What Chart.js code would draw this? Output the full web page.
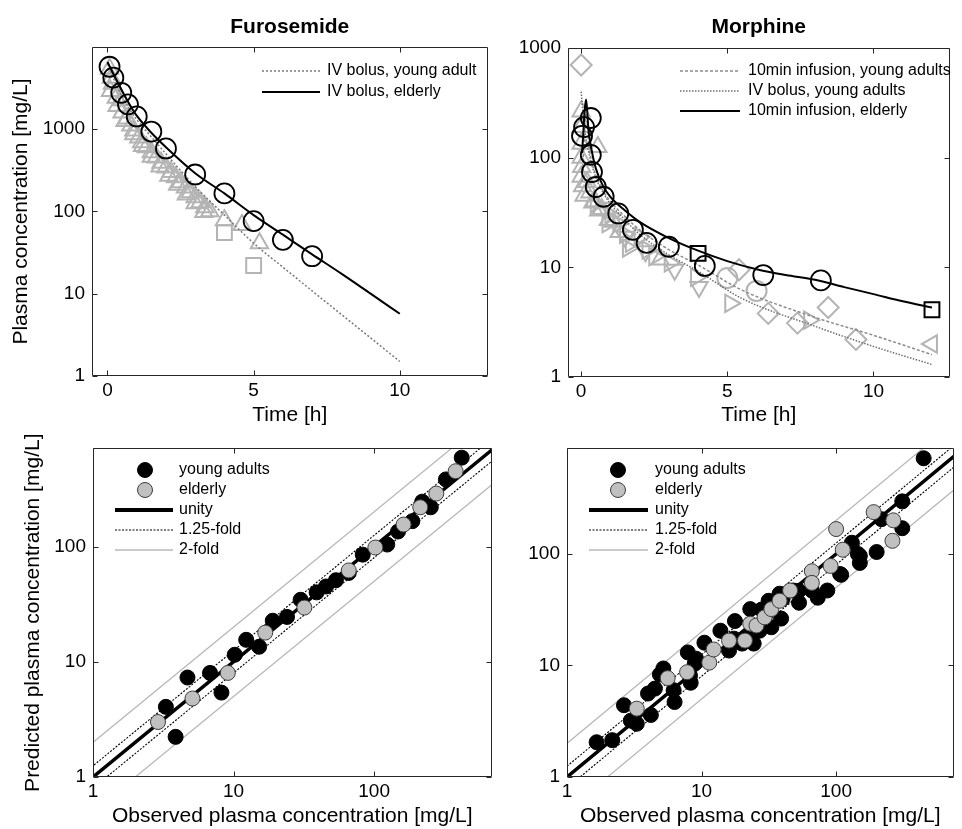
<!DOCTYPE html>
<html>
<head>
<meta charset="utf-8">
<title>Furosemide and morphine plasma concentrations</title>
<script src="https://cdn.jsdelivr.net/npm/chart.js@4.4.1/dist/chart.umd.min.js"></script>
<style>
  html, body { margin: 0; padding: 0; background: #fff; }
  #page { position: relative; width: 962px; height: 829px; overflow: hidden; background: #fff; }
  canvas { position: absolute; }
</style>
</head>
<body>
<div id="page">
  <canvas id="furoTime" width="500" height="430" style="left:0;top:0;width:500px;height:430px"></canvas>
  <canvas id="morphTime" width="462" height="430" style="left:500px;top:0;width:462px;height:430px"></canvas>
  <canvas id="furoGof" width="500" height="399" style="left:0;top:430px;width:500px;height:399px"></canvas>
  <canvas id="morphGof" width="462" height="399" style="left:500px;top:430px;width:462px;height:399px"></canvas>
</div>
<script>
/* Data: Furosemide time course */
const furoTimeElderly = [0.07, 0.2, 0.47, 0.7, 1.0, 1.5, 2.0, 3.0, 4.0, 5.0, 6.0, 7.0];
const furoConcElderly = [5700, 4200, 2750, 1990, 1420, 930, 580, 280, 165, 76, 45, 28.5];
const furoTimeYoungA = [0.07, 0.13, 0.17, 0.3, 0.47, 0.5, 0.67, 0.8, 0.9, 1.07, 1.17, 1.33, 1.5, 1.67, 1.83, 2.0, 2.17, 2.33, 2.5, 2.67, 2.83, 3.0, 3.17, 3.33, 3.5, 4.0, 4.6, 5.2];
const furoConcYoungA = [5400, 4200, 3550, 2400, 2230, 1590, 1340, 1100, 960, 790, 690, 600, 520, 450, 390, 340, 300, 260, 225, 195, 170, 148, 129, 112, 100, 78, 68, 41];
const furoTimeYoungB = [0.1, 0.33, 0.6, 0.9, 1.2, 1.5, 1.8, 2.1, 2.4, 2.7, 3.0, 3.3];
const furoConcYoungB = [2900, 1900, 1250, 860, 620, 460, 350, 270, 210, 160, 125, 98];
const furoTimeYoungSq = [4.0, 5.0];
const furoConcYoungSq = [55, 22];
const furoModelTime = [0, 0.25, 0.5, 0.75, 1, 1.5, 2, 3, 4, 5, 6, 7, 8, 9, 10];
const furoModelYoung = [6200, 3800, 2500, 1750, 1300, 800, 500, 200, 90, 41, 21, 10.8, 5.6, 2.9, 1.5];
const furoModelElderly = [6500, 4300, 2900, 2000, 1450, 900, 600, 290, 165, 90, 52, 30, 17.5, 10, 5.7];

/* Data: Morphine time course */
const morphTimeElderly = [0.03, 0.1, 0.33, 0.33, 0.37, 0.5, 0.77, 1.27, 1.77, 2.24, 3.0, 4.23, 6.23, 8.2];
const morphConcElderly = [158, 190, 230, 106, 74, 54, 44, 31, 22, 16.7, 15.4, 10.3, 8.5, 7.6];
const morphTimeElderlySq = [4.0, 12.0];
const morphConcElderlySq = [13.4, 4.1];
const morphInfElderlyTime = [0.03, 0.17, 0.25, 0.35, 0.5, 0.75, 1, 1.5, 2, 3, 4, 5, 6, 7, 8, 9, 10, 11, 12];
const morphInfElderlyConc = [110, 340, 180, 120, 80, 55, 44, 33, 26, 18.5, 14.2, 11.4, 9.6, 8.5, 7.7, 6.6, 5.7, 4.9, 4.3];
const morphInfYoungTime = [0.03, 0.17, 0.25, 0.35, 0.5, 0.75, 1, 1.5, 2, 3, 4, 5.5, 8, 10, 12];
const morphInfYoungConc = [60, 250, 140, 95, 70, 50, 40, 29, 22, 14.5, 10.5, 6.2, 3.5, 2.4, 1.6];
const morphBolusYoungTime = [0, 0.1, 0.25, 0.5, 0.75, 1, 1.5, 2, 3, 4, 5.5, 8, 10, 12];
const morphBolusYoungConc = [400, 200, 115, 66, 48, 38, 27, 20, 13, 9.2, 5.2, 2.9, 1.9, 1.3];
const morphTriUpTime = [0, 0, 0, 0, 0.02, 0, 0.05, 0.1, 0.57, 0.4, 0.6, 0.93, 1.3, 2.7, 0.2, 0.3, 0.45, 0.7, 1.1];
const morphTriUpConc = [263, 190, 134, 100, 82, 67, 55, 45, 125, 39, 33, 27, 21, 11.8, 60, 48, 40, 34, 26];
const morphTriRightTime = [1.0, 1.27, 1.5, 1.7, 2.0, 2.27, 3.03, 3.93, 5.1, 7.8, 0.5, 0.9, 1.6, 2.5];
const morphTriRightConc = [30, 25, 20, 16.6, 19, 14.4, 11, 8.1, 4.7, 3.3, 38, 25, 15, 12.5];
const morphTriDownTime = [0.8, 1.5, 4.03, 2.2, 3.2];
const morphTriDownConc = [35, 19, 6.6, 14, 9.5];
const morphTriLeftTime = [12.0];
const morphTriLeftConc = [2.0];
const morphDiamondTime = [0, 5.4, 6.4, 7.4, 8.45, 9.4];
const morphDiamondConc = [700, 9.5, 3.8, 3.1, 4.3, 2.2];
const morphGrayCircleTime = [5.0, 6.0];
const morphGrayCircleConc = [8, 6.1];

/* Data: observed vs predicted */
const furoObsYoung = [3.87, 3.3, 4.7, 6.8, 8.2, 10.2, 12.3, 15.2, 19, 24, 30, 39, 45.5, 53.5, 66, 83, 124, 148, 187, 220, 253, 324, 420];
const furoPredYoung = [2.23, 4.06, 7.3, 8.0, 5.4, 11.5, 15.5, 13.5, 22.7, 24.5, 34.5, 40, 45, 51, 59, 85, 104, 135, 166, 245, 219, 382, 590];
const furoObsElderly = [2.9, 5.1, 9.1, 16.8, 31.9, 66, 102, 162, 213, 277, 380];
const furoPredElderly = [3.0, 4.8, 8.0, 17.9, 29.5, 62, 98, 155, 219, 288, 450];
const morphObsYoung = [1.66, 2.17, 2.65, 2.98, 3.3, 4.2, 4.5, 5.2, 6.3, 6.2, 7.9, 8.3, 9.1, 10.5, 13.8, 16, 17.7, 20, 23, 24.4, 27, 31.5, 33, 39, 38, 48, 53, 66, 73, 86, 109, 131, 145, 150, 200, 217, 310, 310, 447, 4.9, 4.0, 8.2, 8.9, 17.4, 21.7, 27.9, 40, 52.7, 107, 150];
const morphPredYoung = [2.05, 2.14, 4.4, 3.2, 3.0, 3.6, 6.2, 9.4, 4.7, 6.0, 13.1, 7.0, 11.5, 16, 20.5, 13.6, 25, 15.7, 32, 15.7, 20.5, 38, 22, 26.3, 44, 47, 36.5, 47, 40.5, 47, 65, 126, 100, 83, 104, 205, 296, 170, 720, 8.3, 5.6, 8.1, 10.4, 17.4, 17.8, 31.7, 39.6, 46.7, 66, 96];
const morphObsElderly = [3.3, 5.6, 7.8, 11.4, 12.3, 16, 21, 23, 25.6, 29.4, 33, 38, 45.5, 66, 66, 91, 100, 112, 190, 266, 262];
const morphPredElderly = [4.1, 7.7, 8.7, 10.6, 13.9, 16.7, 16.7, 23.7, 22.8, 27, 32, 38, 47, 70, 55, 78, 167, 109, 237, 200, 131];

/* Axis ticks and reference lines */
const timeTicks = [0, 5, 10];
const concTicks = [1, 10, 100, 1000];
const gofTicks = [1, 10, 100];
const diagEnds = [0.5, 2000];
const foldLines = [1.25, 2];

/* Styles */
const FONT = '"Liberation Sans", Arial, Helvetica, sans-serif';
const GRAY = '#b4b4b4';
const NONE = 'rgba(0,0,0,0)';

/* Helper functions */
function pts(xs, ys) {
    return xs.map((x, i) => ({x: x, y: ys[i]}));
}

function markers(xs, ys, style, radius, stroke, fill, width, rotation, order) {
    return {
        data: pts(xs, ys),
        showLine: false,
        pointStyle: style,
        pointRadius: radius,
        pointRotation: rotation,
        pointBorderColor: stroke,
        pointBackgroundColor: fill,
        pointBorderWidth: width,
        order: order
    };
}

function curve(xs, ys, color, width, dash, order) {
    return {
        data: pts(xs, ys),
        showLine: true,
        borderColor: color,
        borderWidth: width,
        borderDash: dash,
        pointRadius: 0,
        cubicInterpolationMode: 'monotone',
        order: order
    };
}

function axis(type, min, max, tickValues, side, size, title, titlePad) {
    return {
        type: type,
        min: min,
        max: max,
        position: side,
        grid: {display: false, drawTicks: false},
        border: {display: false},
        afterBuildTicks: function (scale) {
            scale.ticks = tickValues.map(v => ({value: v}));
        },
        afterFit: function (scale) {
            if (side === 'left') {
                scale.width = size;
            } else {
                scale.height = size;
            }
        },
        ticks: {
            autoSkip: false,
            maxRotation: 0,
            padding: side === 'left' ? 7 : 3,
            color: '#000',
            font: {family: FONT, size: 19},
            callback: v => String(v)
        },
        title: {
            display: !!title,
            text: title || '',
            color: '#000',
            font: {family: FONT, size: 21},
            padding: titlePad
        }
    };
}

/* Box with inward ticks on all four sides, like the original figure */
const framePlugin = {
    id: 'frame',
    afterDatasetsDraw(chart) {
        const a = chart.chartArea;
        const ctx = chart.ctx;
        const l = Math.round(a.left) + 0.5, r = Math.round(a.right) - 0.5;
        const t = Math.round(a.top) + 0.5, b = Math.round(a.bottom) - 0.5;
        ctx.save();
        ctx.strokeStyle = '#262626';
        ctx.lineWidth = 1;
        ctx.setLineDash([]);
        ctx.beginPath();
        ctx.rect(l, t, r - l, b - t);
        chart.scales.x.ticks.forEach(tk => {
            const px = Math.round(chart.scales.x.getPixelForValue(tk.value)) + 0.5;
            ctx.moveTo(px, b); ctx.lineTo(px, b - 5);
            ctx.moveTo(px, t); ctx.lineTo(px, t + 5);
        });
        chart.scales.y.ticks.forEach(tk => {
            const py = Math.round(chart.scales.y.getPixelForValue(tk.value)) + 0.5;
            ctx.moveTo(l, py); ctx.lineTo(l + 5, py);
            ctx.moveTo(r, py); ctx.lineTo(r - 5, py);
        });
        ctx.stroke();
        ctx.restore();
    }
};

const titlePlugin = {
    id: 'panelTitle',
    afterDraw(chart, args, opts) {
        if (!opts.text) return;
        const a = chart.chartArea;
        const ctx = chart.ctx;
        ctx.save();
        ctx.fillStyle = '#000';
        ctx.font = 'bold 21px ' + FONT;
        ctx.textAlign = 'center';
        ctx.textBaseline = 'alphabetic';
        ctx.fillText(opts.text, (a.left + a.right) / 2, opts.y);
        ctx.restore();
    }
};

const legendPlugin = {
    id: 'panelLegend',
    afterDraw(chart, args, opts) {
        if (!opts.items) return;
        const ctx = chart.ctx;
        ctx.save();
        opts.items.forEach((item, i) => {
            const y = opts.rows[i];
            if (item.marker) {
                ctx.beginPath();
                ctx.arc(opts.markerX, y, item.radius, 0, Math.PI * 2);
                ctx.fillStyle = item.fill;
                ctx.fill();
                ctx.lineWidth = item.width;
                ctx.strokeStyle = item.stroke;
                ctx.setLineDash([]);
                ctx.stroke();
            } else {
                ctx.beginPath();
                ctx.moveTo(opts.x0, y);
                ctx.lineTo(opts.x1, y);
                ctx.lineWidth = item.width;
                ctx.strokeStyle = item.color;
                ctx.setLineDash(item.dash);
                ctx.stroke();
            }
            ctx.setLineDash([]);
            ctx.fillStyle = '#000';
            ctx.font = '16px ' + FONT;
            ctx.textAlign = 'left';
            ctx.textBaseline = 'middle';
            ctx.fillText(item.label, opts.textX, y);
        });
        ctx.restore();
    }
};

function makeChart(id, datasets, scales, padding, title, legend) {
    return new Chart(document.getElementById(id), {
        type: 'scatter',
        data: {datasets: datasets},
        options: {
            responsive: false,
            animation: false,
            devicePixelRatio: 1,
            events: [],
            layout: {padding: padding},
            scales: scales,
            plugins: {
                legend: {display: false},
                tooltip: {enabled: false},
                panelTitle: title,
                panelLegend: legend
            }
        },
        plugins: [framePlugin, titlePlugin, legendPlugin]
    });
}

function foldSets(order) {
    const sets = [curve(diagEnds, diagEnds, '#000', 3.5, [], order)];
    foldLines.forEach(f => {
        const color = f === 2 ? '#b9b9b9' : '#000';
        const width = f === 2 ? 1.3 : 1.1;
        const dash = f === 2 ? [] : [2, 1.5];
        sets.push(curve(diagEnds, diagEnds.map(v => v * f), color, width, dash, order + 1));
        sets.push(curve(diagEnds, diagEnds.map(v => v / f), color, width, dash, order + 1));
    });
    return sets;
}

const gofLegendItems = [
    {label: 'young adults', marker: true, radius: 7.5, fill: '#000', stroke: '#000', width: 1},
    {label: 'elderly', marker: true, radius: 7.5, fill: '#c0c0c0', stroke: '#3c3c3c', width: 1},
    {label: 'unity', color: '#000', width: 4, dash: []},
    {label: '1.25-fold', color: '#000', width: 1.2, dash: [2, 1.5]},
    {label: '2-fold', color: '#b9b9b9', width: 1.5, dash: []}
];

/* Chart instances */
makeChart('furoTime', [
    markers(furoTimeElderly, furoConcElderly, 'circle', 10, '#000', NONE, 1.8, 0, 1),
    curve(furoModelTime, furoModelElderly, '#000', 2, [], 2),
    curve(furoModelTime, furoModelYoung, '#7a7a7a', 1.5, [2, 2], 3),
    markers(furoTimeYoungSq, furoConcYoungSq, 'rect', 10.5, GRAY, NONE, 2, 0, 4),
    markers(furoTimeYoungA, furoConcYoungA, 'triangle', 10, GRAY, NONE, 2, 0, 5),
    markers(furoTimeYoungB, furoConcYoungB, 'triangle', 10, GRAY, NONE, 2, 0, 5)
], {
    x: axis('linear', -0.53, 13.0, timeTicks, 'bottom', 54, 'Time [h]', {top: 0, bottom: 2}),
    y: axis('logarithmic', 1, 9900, concTicks, 'left', 92, 'Plasma concentration [mg/L]', {top: 9, bottom: 0})
}, {left: 0, top: 47, right: 3, bottom: 0},
{text: 'Furosemide', y: 33},
{x0: 262, x1: 320, textX: 327, rows: [71, 92], items: [
    {label: 'IV bolus, young adult', color: '#7a7a7a', width: 1.5, dash: [2, 2]},
    {label: 'IV bolus, elderly', color: '#000', width: 2, dash: []}
]});

makeChart('morphTime', [
    markers(morphTimeElderly, morphConcElderly, 'circle', 10, '#000', NONE, 1.8, 0, 1),
    markers(morphTimeElderlySq, morphConcElderlySq, 'rect', 10.5, '#000', NONE, 2, 0, 1),
    curve(morphInfElderlyTime, morphInfElderlyConc, '#000', 2, [], 2),
    curve(morphInfYoungTime, morphInfYoungConc, '#8c8c8c', 1.5, [3, 2], 3),
    curve(morphBolusYoungTime, morphBolusYoungConc, '#6e6e6e', 1.5, [1.5, 1.5], 3),
    markers(morphTriUpTime, morphTriUpConc, 'triangle', 10, GRAY, NONE, 2, 0, 5),
    markers(morphTriRightTime, morphTriRightConc, 'triangle', 10, GRAY, NONE, 2, 90, 5),
    markers(morphTriDownTime, morphTriDownConc, 'triangle', 10, GRAY, NONE, 2, 180, 5),
    markers(morphTriLeftTime, morphTriLeftConc, 'triangle', 10, GRAY, NONE, 2, -90, 5),
    markers(morphDiamondTime, morphDiamondConc, 'rectRot', 10.5, GRAY, NONE, 2, 0, 5),
    markers(morphGrayCircleTime, morphGrayCircleConc, 'circle', 10, GRAY, NONE, 2, 0, 5)
], {
    x: axis('linear', -0.45, 12.6, timeTicks, 'bottom', 53, 'Time [h]', {top: 0, bottom: 2}),
    y: axis('logarithmic', 1, 1000, concTicks, 'left', 68, '', {top: 0, bottom: 0})
}, {left: 0, top: 48, right: 3, bottom: 0},
{text: 'Morphine', y: 33},
{x0: 180, x1: 240, textX: 248, rows: [71, 91, 111], items: [
    {label: '10min infusion, young adults', color: '#8c8c8c', width: 1.5, dash: [3, 2]},
    {label: 'IV bolus, young adults', color: '#6e6e6e', width: 1.5, dash: [1.5, 1.5]},
    {label: '10min infusion, elderly', color: '#000', width: 2, dash: []}
]});

makeChart('furoGof', [
    markers(furoObsElderly, furoPredElderly, 'circle', 7.5, '#3c3c3c', '#c0c0c0', 1, 0, 1),
    markers(furoObsYoung, furoPredYoung, 'circle', 7.5, '#000', '#000', 1, 0, 2)
].concat(foldSets(3)), {
    x: axis('logarithmic', 1, 684, gofTicks, 'bottom', 52, 'Observed plasma concentration [mg/L]', {top: 0, bottom: 0}),
    y: axis('logarithmic', 1, 710, gofTicks, 'left', 93, 'Predicted plasma concentration [mg/L]', {top: 21, bottom: 0})
}, {left: 0, top: 17, right: 3, bottom: 0},
{},
{x0: 115, x1: 173, markerX: 145, textX: 179, rows: [40, 60, 80, 100, 120], items: gofLegendItems});

makeChart('morphGof', [
    markers(morphObsElderly, morphPredElderly, 'circle', 7.5, '#3c3c3c', '#c0c0c0', 1, 0, 1),
    markers(morphObsYoung, morphPredYoung, 'circle', 7.5, '#000', '#000', 1, 0, 2)
].concat(foldSets(3)), {
    x: axis('logarithmic', 1, 745, gofTicks, 'bottom', 52, 'Observed plasma concentration [mg/L]', {top: 0, bottom: 0}),
    y: axis('logarithmic', 1, 883, gofTicks, 'left', 67, '', {top: 0, bottom: 0})
}, {left: 0, top: 17, right: 3, bottom: 0},
{},
{x0: 89, x1: 148, markerX: 118, textX: 155, rows: [40, 60, 80, 100, 120], items: gofLegendItems});
</script>
</body>
</html>
